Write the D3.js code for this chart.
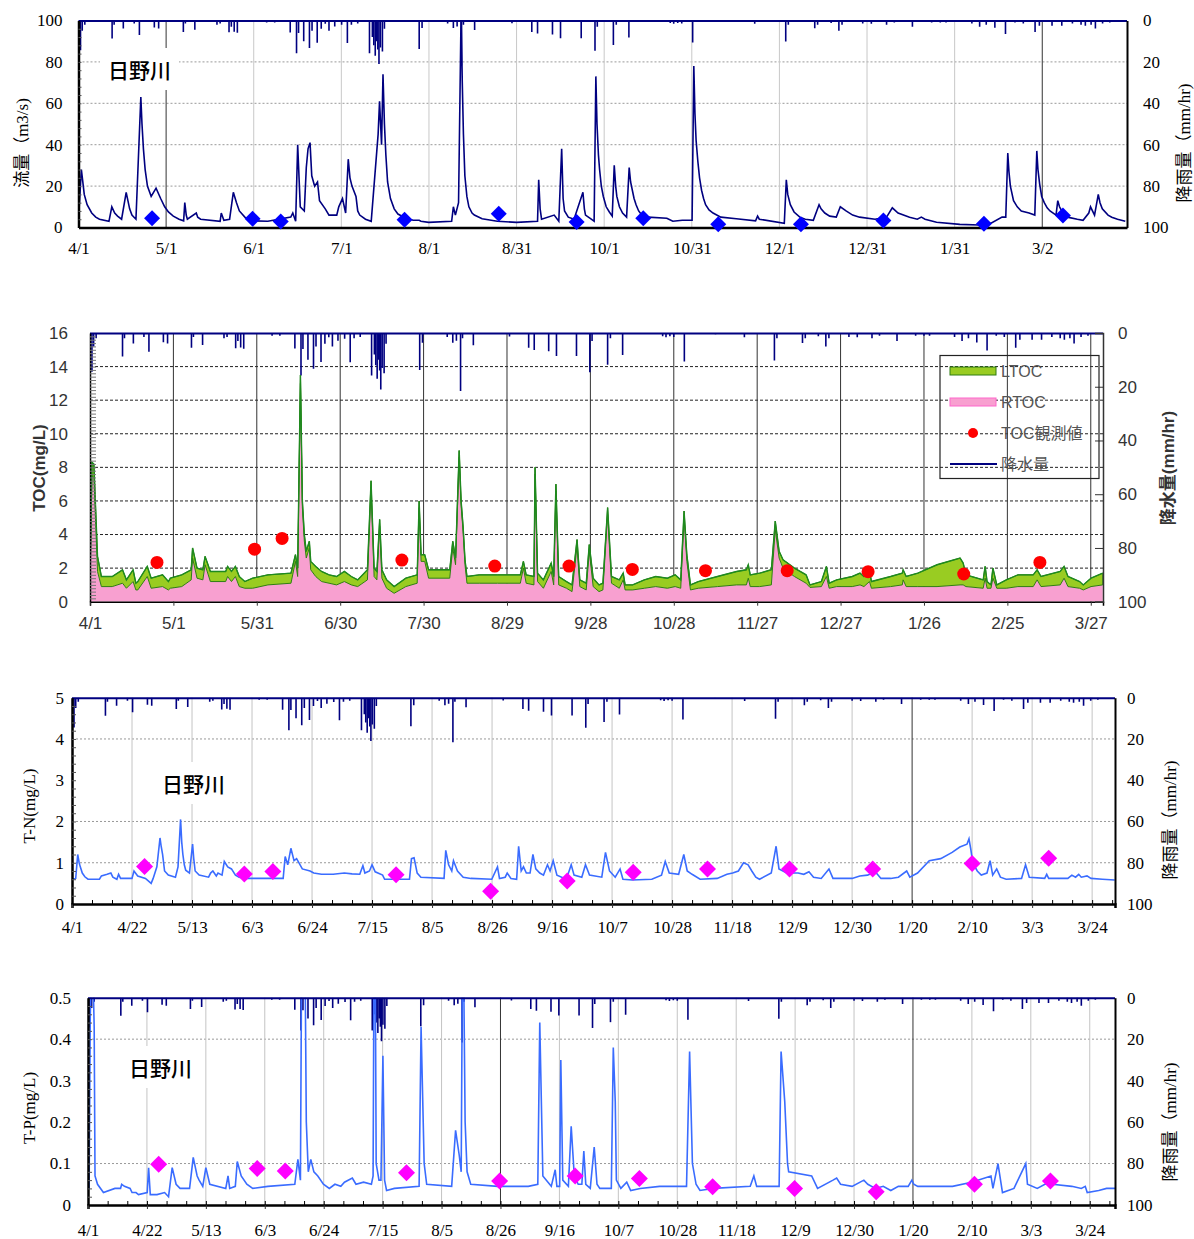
<!DOCTYPE html>
<html>
<head>
<meta charset="utf-8">
<script src="https://cdn.jsdelivr.net/npm/d3@7"></script>
<style>
  body { margin: 0; background: #fff; }
  svg { display: block; }
</style>
</head>
<body>
<div class="chart"></div>
<script>
// days counted from 4/1, rain in mm/hr (drawn hanging from the top in every panel)
const rain = [[0.7,14.4],[1.3,5],[2.2,2],[11.7,8.7],[12.4,2],[15.6,3.9],[19.4,1.5],[21.2,7],[26.4,3.4],[27.9,3.9],
  [36.5,5.5],[37.2,1.5],[40.5,4.5],[48.2,2],[49.3,1.5],[52.4,5.7],[53.2,3],[54.2,5.4],[55.3,5.9],[65.5,1],[68.3,1],
  [73.7,5.8],[75.9,15.8],[76.6,6],[78.4,10],[80.4,13.3],[81.3,5],[83.1,10.8],[84.5,4],[85.9,1.6],[87.2,5],[89.2,2.9],
  [91.6,2.1],[93.6,10.9],[95,2],[97.2,1.5],[101.3,15.8],[102.3,8],[102.8,12],[103.3,17],[103.8,10],[104.2,14],[104.6,21],
  [105.1,13],[105.8,15],[106.5,4],[118.6,13.8],[119.6,3.6],[128.5,1.5],[130.5,3.6],[131.8,2.9],[133.3,21.6],[134,2],
  [137.9,4.6],[150.9,1.3],[157.8,5.5],[159.8,6.3],[165,6.8],[167.8,8.6],[175,8.6],[179.8,14.6],[180.6,3],[186.2,11.8],
  [187.2,2],[191.6,8.2],[206,1.2],[207.2,1.6],[208.6,1.2],[210,1.5],[213.8,10.6],[225,0.5],[235.4,1.6],[246.2,10.2],
  [247.1,2],[256.3,3.7],[257.3,2],[262,1.2],[264.7,5],[265.8,2],[273,1.5],[276,1.6],[281.3,2],[284,1],[290.3,3],[297,1],
  [300,1],[302,1],[311,1.5],[313.7,3],[316,2],[319,3.5],[322.7,6.5],[326,1],[328.9,1.5],[333,5.5],[334.5,2.5],[338.9,2.5],
  [342.3,2.5],[346,1.5],[349,2],[350.5,2.5],[352.5,2],[354,3.9],[356.5,1.5],[359,1]];

// 流量 m3/s
const flow = [[0,4],[1,28],[1.5,22],[2,16],[3,11],[4.6,7],[6,5],[7.3,4],[10.6,3],[11.6,10],[12.6,7],[13.6,5.5],[15,4],
  [16.6,17],[17.2,13],[17.8,9],[18.6,6],[20,4],[21.7,63],[22.1,50],[22.6,38],[23.2,28],[24,20],[25.3,15],[27,19],[28.6,14],
  [30,10],[31.3,7.5],[33,5.5],[35,4],[36.6,3.2],[37,12],[37.5,6],[37.9,4],[41,7],[41.5,5],[42.5,4],[49.3,3],[49.7,7],
  [50.6,3.5],[52.6,4],[53.3,11],[53.9,17],[55,12],[56,8],[57.9,5],[59,4],[60.6,3.2],[65.9,3],[73.9,5],[74.6,7],[75.6,3],
  [76.3,40],[77.2,10],[78.6,8],[79.3,29],[79.9,38],[80.6,41],[81.2,25],[82.2,20],[83.2,22],[83.9,13],[85.9,9],[87.2,6],
  [89.9,6],[90.6,10],[91.9,14],[93,7],[93.9,33],[94.5,24],[95.2,20],[96.6,15],[97.2,8],[97.9,6],[99.9,4],[101.9,3],
  [104.3,45],[104.8,61],[105.5,40],[106,74],[106.5,50],[107,35],[107.6,22],[108.6,14],[109.9,9],[111.2,6.5],[113.9,4.5],
  [116.5,3.5],[118.6,3.5],[119.2,3],[121.9,2.5],[129.9,3],[130.5,10],[131.2,6],[132.3,12],[133.2,105],[133.6,70],
  [134,45],[134.5,25],[135.2,15],[135.9,10],[137,7],[137.8,6],[140.5,4.2],[145.8,3],[152.5,2.5],[159.8,3],[160.2,23],
  [160.7,9],[161.2,4],[165.6,6],[167.2,3],[168.2,38],[168.7,14],[169.2,8],[170.5,5],[172.5,4],[175.6,17],[176.1,9],
  [176.5,6],[178.5,4],[179.5,3],[180.1,73],[180.5,50],[181,35],[181.4,28],[182,20],[182.7,15],[183.7,10],[184.8,7.5],
  [185.8,5.5],[186.5,30],[187,20],[187.4,15],[188.3,10],[189.4,7],[190.8,5],[191.7,29],[192.2,22],[192.8,18],[193.4,14],
  [194.1,11],[195,8],[196.1,6],[198.2,5],[204.8,4.5],[206.9,3],[210.2,3.5],[213.6,3.5],[214.2,78],[214.6,55],[215,42],
  [215.6,32],[216.2,24],[216.9,18],[217.6,14],[218.3,11],[219.5,8.5],[220.9,7],[223.6,5],[229,4.2],[235.7,3.2],[236.4,5.5],
  [237,4],[245.7,2],[246.4,23],[246.9,16],[247.8,11],[249.1,7.5],[251.1,5],[253,4],[255.8,3.5],[257.8,11],[258.5,9],
  [259.8,7],[261.5,5.5],[263.8,5],[265.2,10],[267.2,8],[269.5,6],[271.9,5],[277.3,4],[281.3,5],[283.3,9.5],[285.3,7],
  [289.3,5],[292,4],[293.4,5],[294.7,4],[298.7,2.5],[306.8,1.5],[313.5,1.2],[317.5,2],[321.5,5],[322.8,5],[323.5,36],
  [323.9,27],[324.4,20],[325.5,13],[326.8,10],[328.2,8],[330.9,7],[332.9,6],[333.6,37],[334,28],[334.6,21],[335.3,15],
  [336.2,12],[337.2,9.5],[338.2,8],[340.3,6],[340.9,13],[341.5,10],[342.3,8],[344.3,5],[347.7,4],[349.7,3.5],[351.7,7],
  [352.3,10],[353.7,6],[355,16],[355.6,12],[356.4,9],[358.4,6],[359.7,5],[361.7,4],[364.4,3]];
const flowObs = [[25.6,4.5],[60.6,4.2],[70.4,2.9],[113.5,3.7],[146.3,6.6],[173.4,2.6],[196.6,4.5],[222.7,1.6],
  [251.5,1.6],[280.2,3.4],[315.2,1.8],[342.7,5.8]];

// TOC: [day, RTOC, RTOC+LTOC]
const toc = [[0,0.9,1.2],[0.7,7.5,8.3],[1.4,7.4,8.2],[2.7,1.8,2.7],[4.1,0.9,1.5],[8,0.9,1.5],[11.7,1.1,1.9],[13.1,0.8,1.3],
  [15.5,1.2,1.9],[16.5,0.7,1.1],[17.2,0.7,1.2],[20.6,1.5,2.1],[22,0.8,1.4],[26.1,0.9,1.6],[28.2,0.7,1.2],[28.9,0.8,1.4],
  [33,0.9,1.6],[36.4,1.3,1.9],[36.9,2.6,3.2],[38.5,1.4,2],[40.6,1.3,1.9],[41.4,2.2,2.7],[43.3,1.2,1.8],[48.8,1.2,1.8],
  [49.5,1.5,2.1],[50.9,1.2,1.8],[52.3,1.5,2.1],[53.7,0.9,1.5],[55.7,0.8,1.2],[58.5,0.8,1.4],[64,1,1.6],[72.3,1.1,1.7],
  [73.9,2.4,2.8],[74.7,1.5,2],[75.7,13,13.5],[76.4,5.6,6],[77.1,3.6,4],[77.8,2.6,3],[78.9,3.2,3.6],[79.4,1.9,2.4],
  [81.2,1.5,2.1],[83.3,1.2,1.8],[86,1.1,1.6],[88.7,1,1.5],[91.5,1.2,1.8],[94,1,1.5],[96.3,0.9,1.3],[99.8,1.3,1.9],
  [101.1,6.8,7.2],[102.2,1.5,2],[103.2,1.3,1.8],[104.2,4.5,4.9],[105,1.4,1.9],[106.7,0.8,1.3],[109.4,0.5,0.9],
  [113.6,0.9,1.4],[117.7,1.1,1.6],[118.4,5.6,6],[119.1,2.4,2.8],[120.4,2.4,2.8],[121.8,1.4,1.9],[129.4,1.4,1.9],
  [130.5,3.2,3.6],[131.5,2.2,2.6],[132.8,8.6,9],[133.5,5.7,6],[134.2,4.2,4.5],[134.9,2.2,2.5],[135.6,1.1,1.5],[140,1.1,1.6],
  [146.6,1.1,1.6],[154.8,1.1,1.6],[155.9,2,2.4],[156.9,1.1,1.6],[159.7,1,1.5],[160.1,7.6,8],[161,1.2,1.7],[163.1,0.8,1.3],
  [165.9,1.8,2.3],[166.8,1,1.5],[167.6,6.6,7],[168.6,1,1.5],[171.4,0.8,1.2],[173.4,0.6,1],[175.2,3.3,3.7],[176.2,0.9,1.3],
  [178.5,0.7,1.1],[179.6,3,3.4],[181,0.9,1.4],[183.1,0.6,1],[184.5,0.7,1.1],[186.2,5.2,5.6],[187.6,1.1,1.5],[190.4,0.8,1.3],
  [191.8,1.3,1.7],[192.5,0.7,1],[195.2,0.7,1],[199.4,0.8,1.3],[203.5,0.9,1.5],[207.7,0.8,1.4],[210.5,0.9,1.6],
  [212.5,0.8,1.3],[213.7,5,5.4],[214.7,2.4,2.8],[216,0.7,1],[218.8,0.8,1.2],[225.7,0.9,1.5],[232.6,1,1.8],[236.1,1,1.9],
  [236.8,1.4,2.2],[237.5,0.9,1.6],[240.9,0.9,1.7],[245.1,1,1.9],[246.5,4.3,4.8],[247.9,2.6,3],[249.3,2,2.5],[253.4,1.5,2],
  [257.6,1.1,1.6],[259,0.85,1],[263.1,0.9,1.2],[264.9,1.5,2.1],[265.9,0.8,1.1],[268.6,0.9,1.3],[274.2,0.9,1.5],[277,1,1.7],
  [278.4,0.9,1.5],[280.4,1.2,1.9],[281.1,0.8,1.2],[288,0.9,1.5],[292.2,1,1.7],[292.5,1.3,1.9],[293.6,0.9,1.5],
  [297.8,0.9,1.7],[304.7,0.9,2.2],[313,1,2.6],[314.1,1,2.3],[315.1,0.9,1.6],[321.3,0.8,1.3],[322,1.4,2.1],[322.7,0.8,1.2],
  [324.1,0.8,1],[324.8,1.4,2],[326.2,0.8,1],[329.6,0.8,1.3],[333.8,0.9,1.6],[339.3,0.9,1.6],[340.7,1.3,1.9],[342.1,0.9,1.5],
  [349,1,1.8],[350.4,1.4,2.1],[351.8,0.9,1.5],[356,0.8,1.2],[357.3,0.7,1],[360.1,0.9,1.4],[364.3,1,1.7]];
const tocObs = [[24.1,2.34],[59.2,3.13],[69.1,3.77],[112.2,2.48],[145.6,2.12],[172.3,2.12],[195.1,1.92],[221.4,1.85],
  [250.8,1.85],[279.9,1.79],[314.3,1.65],[341.7,2.34]];

// T-N mg/L
const tn = [[0,0.6],[1.3,0.62],[2,1.2],[2.5,1],[2.9,0.9],[3.6,0.75],[4.5,0.66],[5.6,0.6],[9.6,0.6],[10.3,0.68],[12.3,0.72],
  [13.6,0.75],[14.3,0.65],[15.7,0.6],[16.3,0.72],[17,0.62],[21,0.62],[21.7,0.8],[23,0.68],[25.7,0.62],[27.7,0.5],
  [28.4,0.62],[29.7,0.9],[30.8,1.6],[31.2,1.4],[31.7,1.2],[32.4,0.8],[33.7,0.7],[36.2,0.65],[37.1,0.9],[38,2.05],
  [38.4,1.5],[38.8,1.2],[39.3,0.95],[39.8,0.82],[41.1,0.75],[42.2,1.45],[42.6,1.1],[43.1,0.8],[44.5,0.7],[47.8,0.65],
  [48.5,0.75],[49.3,0.8],[50.5,0.68],[51.1,0.75],[52.5,0.7],[53.3,1.03],[54.5,0.9],[55.8,0.85],[57.2,0.7],[58.5,0.65],
  [60.5,0.62],[68.6,0.62],[73.9,0.62],[74.6,1.15],[75.5,0.95],[76.6,1.35],[77.7,1.05],[78.6,1.1],[80.6,0.85],[83.3,0.8],
  [84.6,0.75],[87.3,0.72],[91.4,0.72],[95.3,0.75],[98,0.73],[100.7,0.72],[101.8,0.93],[102.5,0.75],[104.1,0.8],[105,0.95],
  [106.1,0.78],[108.7,0.7],[109.4,0.6],[118.1,0.6],[118.8,1.1],[119.7,1.12],[120.8,0.75],[122.1,0.65],[130.2,0.62],
  [130.8,1.3],[131.8,0.95],[132.9,0.8],[133.5,1.05],[134.9,0.8],[136.9,0.65],[139.6,0.62],[146.9,0.6],[148.9,0.9],
  [149.6,0.62],[151.6,0.65],[152.3,0.75],[153.6,0.62],[155.6,0.6],[156.3,1.4],[157.2,0.8],[158,0.9],[159,0.75],[160.3,0.75],
  [161.3,1.2],[162.3,0.85],[163.7,0.75],[165,0.7],[166.4,0.95],[167.3,0.8],[168.4,1.05],[169.7,0.7],[173,0.6],[174.7,0.95],
  [175.7,0.7],[178.4,0.65],[179.7,0.95],[181.1,0.7],[185.4,0.65],[186.7,1.25],[188.1,0.8],[190.1,0.65],[191.8,0.85],
  [192.8,0.6],[196.1,0.58],[202.9,0.6],[206.3,0.7],[207.6,1.03],[209,0.75],[212.3,0.72],[214.1,1.2],[215.3,0.8],[217,0.72],
  [219.8,0.6],[225.8,0.62],[229.2,0.72],[231.2,0.75],[233.2,0.8],[235,1],[236.6,0.95],[237.9,0.8],[239.3,0.65],[240.6,0.6],
  [244.7,0.75],[246.4,1.4],[247.4,0.85],[250.1,0.75],[254.1,0.75],[256.1,0.72],[257.9,0.78],[259.5,0.65],[262.2,0.62],
  [264.9,0.85],[266.3,0.62],[273,0.62],[275.7,0.68],[278.4,0.7],[281.1,0.78],[283.1,0.62],[286.5,0.62],[289.2,0.65],
  [292.1,0.8],[293.2,0.65],[295.9,0.75],[300,1.05],[304,1.1],[308,1.25],[310.7,1.38],[313.2,1.45],[313.9,1.58],[314.6,1.3],
  [315.2,1],[316.8,0.8],[318.2,0.7],[320.2,0.75],[321.3,1.05],[322.2,0.7],[323.6,0.85],[324.9,0.65],[326.9,0.6],[332.3,0.62],
  [333.7,0.95],[335,0.65],[340.4,0.62],[341.1,0.72],[341.8,0.62],[348.5,0.62],[349.9,0.7],[351.2,0.65],[352.3,0.72],
  [353.2,0.65],[355.2,0.68],[356.6,0.62],[360.6,0.6],[364.9,0.58]];
const tnObs = [[25.4,0.91],[60.3,0.73],[70.3,0.79],[113.4,0.71],[146.5,0.31],[173.3,0.56],[196.4,0.77],[222.4,0.85],
  [251.1,0.85],[280.2,0.85],[315,0.98],[341.8,1.11]];

// T-P mg/L
const tp = [[0,0.04],[0.4,0.04],[0.8,0.45],[1.1,0.55],[1.8,0.55],[2.2,0.43],[2.5,0.07],[3.4,0.05],[5.5,0.03],[9.6,0.04],
  [11.6,0.04],[12,0.05],[13,0.045],[15,0.04],[15.7,0.03],[17.1,0.03],[18,0.025],[21.1,0.03],[21.6,0.09],[22.2,0.025],
  [24.6,0.025],[27.3,0.03],[28.7,0.02],[30,0.09],[31.4,0.05],[32.8,0.04],[36.2,0.04],[37.5,0.115],[38.9,0.07],[39.6,0.06],
  [40.9,0.045],[42,0.09],[43.4,0.05],[49.1,0.04],[49.9,0.07],[50.5,0.04],[52.5,0.045],[53.2,0.105],[54.6,0.07],[56.6,0.05],
  [58.7,0.04],[64.1,0.045],[73.7,0.05],[74.8,0.11],[75.7,0.06],[76.1,0.55],[77.4,0.55],[77.8,0.2],[78.5,0.08],[79.4,0.11],
  [80.5,0.08],[81.9,0.07],[83.9,0.05],[86,0.04],[88,0.05],[90.1,0.045],[91.4,0.055],[94.2,0.065],[95.5,0.05],[98.2,0.055],
  [101,0.05],[101.6,0.07],[101.9,0.55],[102.4,0.55],[102.7,0.1],[103.7,0.06],[104.4,0.06],[105.1,0.36],[105.7,0.06],
  [106.4,0.035],[109.2,0.04],[118,0.045],[118.7,0.43],[119.8,0.1],[120.7,0.05],[129.6,0.045],[131,0.18],[132.3,0.12],
  [133,0.08],[133.4,0.55],[133.9,0.55],[134.4,0.2],[135.1,0.08],[136.4,0.05],[146,0.045],[152.8,0.045],[156.9,0.045],
  [160.3,0.05],[161,0.44],[162.1,0.07],[165.1,0.045],[166.5,0.085],[167.1,0.045],[168.1,0.045],[168.5,0.35],[169.2,0.06],
  [171.2,0.045],[172.2,0.19],[173.3,0.07],[174.7,0.05],[176,0.05],[176.7,0.13],[177.4,0.05],[179,0.04],[180.4,0.14],
  [181.4,0.05],[182.4,0.04],[186.5,0.04],[187.2,0.38],[187.9,0.25],[188.3,0.06],[189.9,0.04],[192,0.055],[193.4,0.035],
  [196.8,0.04],[203.7,0.045],[213.3,0.045],[214.4,0.37],[215.4,0.1],[216.7,0.05],[218.1,0.035],[222.9,0.04],[236,0.045],
  [237.3,0.07],[238.3,0.045],[246.3,0.045],[247,0.37],[248.3,0.25],[249.3,0.1],[249.7,0.08],[257.9,0.07],[260,0.04],
  [265.5,0.06],[266.8,0.065],[268.2,0.05],[272.3,0.045],[276.5,0.06],[277.9,0.05],[280.6,0.04],[283.4,0.045],[286.1,0.035],
  [288.8,0.045],[292.3,0.045],[293.6,0.06],[294.3,0.05],[295.7,0.045],[308.1,0.045],[314.9,0.055],[321.8,0.07],
  [322.5,0.04],[324.3,0.1],[325.9,0.03],[330,0.04],[334.2,0.1],[334.8,0.05],[338.3,0.04],[341,0.05],[343.7,0.05],
  [350.6,0.045],[354,0.04],[355.4,0.045],[356.1,0.03],[360.2,0.035],[363,0.04],[366,0.04]];
const tpObs = [[25.2,0.098],[60.3,0.088],[70.3,0.082],[113.5,0.078],[146.7,0.058],[173.6,0.07],[196.5,0.064],
  [222.6,0.044],[251.8,0.04],[280.9,0.032],[315.9,0.05],[343,0.058]];

// tick labels
const flowDates = ['4/1','5/1','6/1','7/1','8/1','8/31','10/1','10/31','12/1','12/31','1/31','3/2'];
const tocDates = ['4/1','5/1','5/31','6/30','7/30','8/29','9/28','10/28','11/27','12/27','1/26','2/25','3/27'];
const wqDates = ['4/1','4/22','5/13','6/3','6/24','7/15','8/5','8/26','9/16','10/7','10/28','11/18','12/9','12/30',
  '1/20','2/10','3/3','3/24'];
const rainTicks = [0,20,40,60,80,100];

const serif = '"Liberation Serif", "Times New Roman", "Noto Sans CJK JP", serif';
const sans = '"Liberation Sans", Arial, "Noto Sans CJK JP", sans-serif';
const jp = '"Noto Sans CJK JP", sans-serif';
const navy = '#000080';

const svg = d3.select('.chart').append('svg')
    .attr('width', 1194)
    .attr('height', 1239);

let clipN = 0;

function panel(p) {
    const x = d3.scaleLinear().domain([0, p.days]).range([p.left, p.right]);
    const y = d3.scaleLinear().domain([0, p.ymax]).range([p.bottom, p.top]);
    const yr = d3.scaleLinear().domain([0, 100]).range([p.top, p.bottom]);
    const g = svg.append('g');
    const id = 'clip' + (clipN++);
    g.append('clipPath').attr('id', id).append('rect')
        .attr('x', p.left).attr('y', p.top)
        .attr('width', p.right - p.left).attr('height', p.bottom - p.top);

    // horizontal grid
    g.selectAll('.hg').data(p.hgrid).join('line')
        .attr('x1', p.left).attr('x2', p.right)
        .attr('y1', d => y(d)).attr('y2', d => y(d))
        .attr('stroke', p.hColor).attr('stroke-width', 1)
        .attr('stroke-dasharray', p.hDash);

    // vertical grid
    const xt = p.dates.map((d, i) => i * p.step);
    g.selectAll('.vg').data(xt.slice(1)).join('line')
        .attr('x1', d => x(d)).attr('x2', d => x(d))
        .attr('y1', p.top).attr('y2', p.bottom)
        .attr('stroke', d => p.dark.includes(d) ? '#333' : p.vColor)
        .attr('stroke-width', 1);

    const plot = g.append('g').attr('clip-path', `url(#${id})`);

    // rain hanging from the top
    plot.selectAll('.rain').data(rain).join('line')
        .attr('x1', d => x(d[0])).attr('x2', d => x(d[0]))
        .attr('y1', yr(0)).attr('y2', d => yr(d[1]))
        .attr('stroke', navy).attr('stroke-width', 1.6);
    g.append('line')
        .attr('x1', p.left).attr('x2', p.right)
        .attr('y1', p.top + 0.5).attr('y2', p.top + 0.5)
        .attr('stroke', navy).attr('stroke-width', 2);

    // axes
    const xAxis = d3.axisBottom(x).tickValues(xt)
        .tickFormat((d, i) => p.dates[i]).tickSize(p.xTick).tickPadding(p.xPad);
    const gx = g.append('g').attr('transform', `translate(0,${p.bottom})`).call(xAxis);

    const yAxis = d3.axisLeft(y).tickValues(p.yticks)
        .tickFormat(p.yfmt).tickSize(0).tickPadding(p.yPad);
    const gy = g.append('g').attr('transform', `translate(${p.left},0)`).call(yAxis);

    const rAxis = d3.axisRight(yr).tickValues(rainTicks).tickSize(p.rTick).tickPadding(p.rPad);
    const gr = g.append('g').attr('transform', `translate(${p.right},0)`).call(rAxis);

    // minor ticks
    g.append('g').attr('transform', `translate(${p.left},0)`)
        .call(d3.axisLeft(y).tickValues(p.yminor).tickSize(-p.minorLen).tickFormat(''))
        .call(a => a.select('.domain').remove())
        .selectAll('line').attr('stroke', p.minorColor);
    if (p.xminor) {
        g.append('g').attr('transform', `translate(0,${p.bottom})`)
            .call(d3.axisBottom(x).tickValues(p.xminor).tickSize(-4).tickFormat(''))
            .call(a => a.select('.domain').remove());
    }

    [gx, gy, gr].forEach(a => {
        a.selectAll('text').attr('font-family', p.font).attr('font-size', p.fontSize).attr('fill', p.textColor);
    });
    gx.select('.domain').attr('stroke', '#000').attr('stroke-width', p.axisW);
    gy.select('.domain').attr('stroke', '#000').attr('stroke-width', p.axisW);
    gr.select('.domain').attr('stroke', p.rColor).attr('stroke-width', p.rW);
    gx.selectAll('.tick line').attr('stroke', '#333');
    gr.selectAll('.tick line').attr('stroke', '#333');

    // axis titles
    g.append('text')
        .attr('transform', `translate(${p.lt[0]},${p.lt[1]}) rotate(-90)`)
        .attr('text-anchor', 'middle').attr('dominant-baseline', 'central')
        .attr('font-family', p.titleFont).attr('font-size', p.titleSize)
        .attr('font-weight', p.titleWeight).attr('fill', p.textColor)
        .text(p.ltitle);
    g.append('text')
        .attr('transform', `translate(${p.rt[0]},${p.rt[1]}) rotate(-90)`)
        .attr('text-anchor', 'middle').attr('dominant-baseline', 'central')
        .attr('font-family', p.titleFont).attr('font-size', p.titleSize)
        .attr('font-weight', p.titleWeight).attr('fill', p.textColor)
        .text(p.rtitle);

    if (p.name) {
        const t = g.append('text')
            .attr('x', p.name[0]).attr('y', p.name[1])
            .attr('font-family', jp).attr('font-size', 21).attr('font-weight', 500)
            .attr('fill', '#000').text('日野川');
        const b = t.node().getBBox();
        g.insert('rect', () => t.node())
            .attr('x', b.x - 8).attr('y', b.y - 6)
            .attr('width', b.width + 16).attr('height', b.height + 12)
            .attr('fill', '#fff');
    }
    return { g, plot, x, y };
}

function diamonds(c, data, color, r) {
    c.g.selectAll(null).data(data).join('path')
        .attr('d', `M0,${-r}L${r},0L0,${r}L${-r},0Z`)
        .attr('transform', d => `translate(${c.x(d[0])},${c.y(d[1])})`)
        .attr('fill', color);
}

// ---- panel 1 : flow ----
const p1 = panel({
    days: 365, left: 78.5, right: 1127, top: 20.5, bottom: 227.5, ymax: 100,
    step: 30.5, dates: flowDates, dark: [30.5, 335.5],
    hgrid: [20, 40, 60, 80], hColor: '#999', hDash: '2,2', vColor: '#c8c8c8',
    yticks: [0, 20, 40, 60, 80, 100], yfmt: d3.format('d'), yminor: d3.range(4, 100, 4),
    minorLen: 3, minorColor: '#555',
    xTick: 0, xPad: 14, yPad: 16, rTick: 0, rPad: 16, rColor: '#000', rW: 2, axisW: 2.5,
    font: serif, fontSize: 17, textColor: '#000',
    titleFont: serif, titleSize: 17, titleWeight: 400,
    ltitle: '流量（m3/s)', rtitle: '降雨量（mm/hr)', lt: [22, 143], rt: [1184, 143],
    name: [108, 78]
});
p1.plot.append('path').datum(flow)
    .attr('d', d3.line().x(d => p1.x(d[0])).y(d => p1.y(d[1])))
    .attr('fill', 'none').attr('stroke', navy).attr('stroke-width', 1.6);
diamonds(p1, flowObs, '#0000ff', 8);

// ---- panel 2 : TOC ----
const p2 = panel({
    days: 364.4, left: 90, right: 1103, top: 333, bottom: 601.7, ymax: 16,
    step: 30, dates: tocDates, dark: [],
    hgrid: [2, 4, 6, 8, 10, 12, 14], hColor: '#222', hDash: '3,2', vColor: '#333',
    yticks: d3.range(0, 17, 2), yfmt: d3.format('d'), yminor: d3.range(0.2, 16, 0.2),
    minorLen: 6, minorColor: '#777',
    xTick: 4, xPad: 11, yPad: 22, rTick: -8, rPad: 15, rColor: '#333', rW: 1.5, axisW: 1.5,
    font: sans, fontSize: 17, textColor: '#333',
    titleFont: sans, titleSize: 17, titleWeight: 700,
    ltitle: 'TOC(mg/L)', rtitle: '降水量(mm/hr)', lt: [39, 468], rt: [1168, 468]
});
p2.plot.insert('path', 'line').datum(toc)
    .attr('d', d3.area().x(d => p2.x(d[0])).y0(p2.y(0)).y1(d => p2.y(d[1])))
    .attr('fill', '#f8a0d0');
p2.plot.insert('path', 'line').datum(toc)
    .attr('d', d3.area().x(d => p2.x(d[0])).y0(d => p2.y(d[1])).y1(d => p2.y(d[2])))
    .attr('fill', '#99cc22').attr('stroke', '#2f7d12').attr('stroke-width', 1);
p2.plot.append('path').datum(toc)
    .attr('d', d3.line().x(d => p2.x(d[0])).y(d => p2.y(d[2])))
    .attr('fill', 'none').attr('stroke', '#1f8a1f').attr('stroke-width', 1.4);
p2.g.selectAll(null).data(tocObs).join('circle')
    .attr('cx', d => p2.x(d[0])).attr('cy', d => p2.y(d[1]))
    .attr('r', 6.5).attr('fill', '#ff0000');

// legend
const lg = p2.g.append('g');
lg.append('rect').attr('x', 940).attr('y', 355.5).attr('width', 159).attr('height', 123)
    .attr('fill', 'none').attr('stroke', '#222').attr('stroke-width', 1.2);
lg.append('rect').attr('x', 950).attr('y', 367).attr('width', 46).attr('height', 8)
    .attr('fill', '#99cc22').attr('stroke', '#2f7d12');
lg.append('rect').attr('x', 950).attr('y', 398).attr('width', 46).attr('height', 8)
    .attr('fill', '#f8a0d0').attr('stroke', '#ff66cc');
lg.append('circle').attr('cx', 973).attr('cy', 433).attr('r', 5).attr('fill', '#ff0000');
lg.append('line').attr('x1', 950).attr('x2', 997).attr('y1', 464).attr('y2', 464)
    .attr('stroke', navy).attr('stroke-width', 2);
lg.selectAll('text').data(['LTOC', 'RTOC', 'TOC観測値', '降水量']).join('text')
    .attr('x', 1001).attr('y', (d, i) => 371 + i * 31)
    .attr('dominant-baseline', 'central')
    .attr('font-family', sans).attr('font-size', 16).attr('fill', '#555')
    .text(d => d);

// ---- panel 3 : T-N ----
const p3 = panel({
    days: 365, left: 72, right: 1115, top: 697.7, bottom: 904, ymax: 5,
    step: 21, dates: wqDates, dark: [294],
    hgrid: [1, 2, 4], hColor: '#999', hDash: '2,2', vColor: '#c4c4c4',
    yticks: [0, 1, 2, 3, 4, 5], yfmt: d3.format('d'), yminor: d3.range(0.2, 5, 0.2),
    minorLen: 4, minorColor: '#555', xminor: d3.range(7, 365, 7),
    xTick: 4, xPad: 13, yPad: 8, rTick: 0, rPad: 12, rColor: '#000', rW: 2, axisW: 2.5,
    font: serif, fontSize: 17, textColor: '#000',
    titleFont: serif, titleSize: 17, titleWeight: 400,
    ltitle: 'T-N(mg/L)', rtitle: '降雨量（mm/hr)', lt: [29, 806], rt: [1170, 820],
    name: [162, 792]
});
p3.plot.append('path').datum(tn)
    .attr('d', d3.line().x(d => p3.x(d[0])).y(d => p3.y(d[1])))
    .attr('fill', 'none').attr('stroke', '#3a6cff').attr('stroke-width', 1.6);
diamonds(p3, tnObs, '#ff00ff', 8.5);

// ---- panel 4 : T-P ----
const p4 = panel({
    days: 366, left: 88, right: 1115, top: 997.7, bottom: 1205, ymax: 0.5,
    step: 21, dates: wqDates, dark: [147, 294],
    hgrid: [0.1, 0.4], hColor: '#999', hDash: '2,2', vColor: '#c4c4c4',
    yticks: [0, 0.1, 0.2, 0.3, 0.4, 0.5], yfmt: d => d === 0 ? '0' : d3.format('.1f')(d),
    yminor: d3.range(0.02, 0.5, 0.02),
    minorLen: 4, minorColor: '#555', xminor: d3.range(7, 366, 7),
    xTick: 4, xPad: 15, yPad: 17, rTick: 0, rPad: 12, rColor: '#000', rW: 2, axisW: 2.5,
    font: serif, fontSize: 17, textColor: '#000',
    titleFont: serif, titleSize: 17, titleWeight: 400,
    ltitle: 'T-P(mg/L)', rtitle: '降雨量（mm/hr)', lt: [29, 1108], rt: [1170, 1122],
    name: [129, 1076]
});
p4.plot.append('path').datum(tp)
    .attr('d', d3.line().x(d => p4.x(d[0])).y(d => p4.y(d[1])))
    .attr('fill', 'none').attr('stroke', '#3a6cff').attr('stroke-width', 1.6);
diamonds(p4, tpObs, '#ff00ff', 8.5);
</script>
</body>
</html>
